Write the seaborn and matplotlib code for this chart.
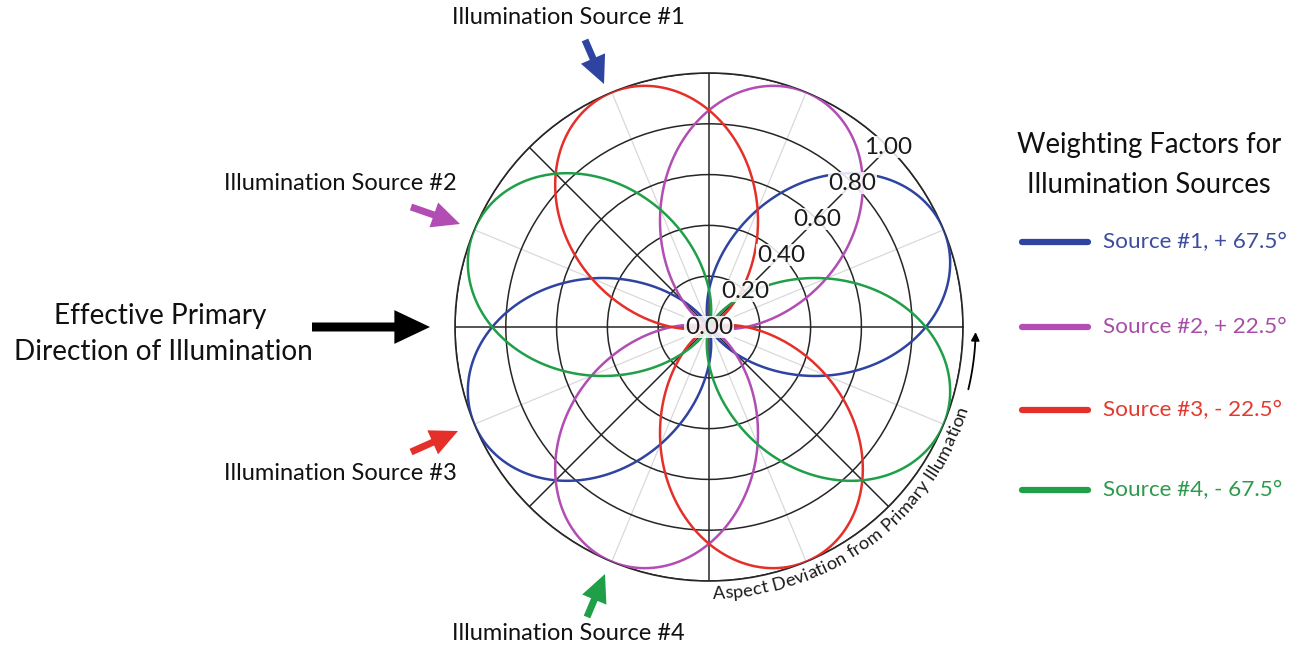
import numpy as np
import pandas as pd
import matplotlib
matplotlib.use("Agg")
import matplotlib.pyplot as plt
from matplotlib.patches import FancyArrowPatch, ArrowStyle
from matplotlib.font_manager import FontProperties
import seaborn as sns

# weighting factors for the four illumination sources
sources = ["Source #1, + 67.5°", "Source #2, + 22.5°", "Source #3, - 22.5°", "Source #4, - 67.5°"]
offsets_deg = [67.5, 22.5, -22.5, -67.5]
line_colors = ["#2e44a0", "#b24db3", "#e5302a", "#1f9f47"]
text_colors = ["#3d4c9c", "#a64ea8", "#e23a30", "#2e9a4c"]
ring_values = [0.0, 0.2, 0.4, 0.6, 0.8, 1.0]
ring_labels = ["0.00", "0.20", "0.40", "0.60", "0.80", "1.00"]
source_labels = ["Illumination Source #1", "Illumination Source #2",
                 "Illumination Source #3", "Illumination Source #4"]
axis_caption = "Aspect Deviation from Primary Illumation"

sns.set_style("white")
plt.rcParams["font.family"] = ["Lato", "DejaVu Sans"]

W, H = 1304, 648
fig = plt.figure(figsize=(W / 100, H / 100), dpi=100)
cx, cy, R = 709, 327, 254
ax = fig.add_axes([(cx - R) / W, (H - cy - R) / H, 2 * R / W, 2 * R / H], projection="polar")

# weight = sin^2(aspect - source azimuth), primary light comes from 180 deg
theta = np.linspace(0, 2 * np.pi, 721)
rows = []
for name, off in zip(sources, offsets_deg):
    w = np.sin(theta - np.radians(180 - off)) ** 2
    rows.append(pd.DataFrame({"theta": theta, "weight": w, "source": name}))
df = pd.concat(rows, ignore_index=True)

sns.lineplot(data=df, x="theta", y="weight", hue="source", palette=line_colors,
             sort=False, estimator=None, legend=False, linewidth=1.8, ax=ax, zorder=3)

ax.set_ylim(0, 1)
ax.set_yticks(ring_values[1:])
ax.set_yticklabels([])
ax.set_xticks(np.radians(np.arange(0, 360, 45)))
ax.set_xticklabels([])
ax.set_xticks(np.radians(np.arange(22.5, 360, 45)), minor=True)
ax.tick_params(which="both", length=0)
ax.set_axisbelow(True)
ax.grid(True, which="major", color="#262626", linewidth=1.1)
ax.xaxis.grid(True, which="minor", color="#d9d9d9", linewidth=0.9)
ax.spines["polar"].set_color("#262626")
ax.spines["polar"].set_linewidth(1.2)
ax.set_xlabel("")
ax.set_ylabel("")

for v, lab in zip(ring_values, ring_labels):
    ax.text(np.radians(45), v, lab, ha="center", va="center", fontsize=17.5, color="#1a1a1a",
            zorder=6, bbox=dict(facecolor="white", edgecolor="none", alpha=0.85, pad=0.4))

# curved caption along the rim
fp = FontProperties(family=["Lato", "DejaVu Sans"], size=13.2)
renderer = fig.canvas.get_renderer()
r_txt = 1.05
r_px = r_txt * R
t0 = np.radians(-89.3)
prev = 0.0
for i, ch in enumerate(axis_caption):
    wd = renderer.get_text_width_height_descent(axis_caption[:i + 1], fp, ismath=False)[0]
    mid = (prev + wd) / 2
    prev = wd
    if ch == " ":
        continue
    ang = t0 + mid / r_px
    ax.text(ang, r_txt, ch, fontproperties=fp, color="#1a1a1a", rotation=np.degrees(ang) + 90,
            rotation_mode="anchor", ha="center", va="center", clip_on=False)

arc = np.radians(np.linspace(-13.5, -3, 30))
ax.plot(arc, np.full(arc.size, r_txt), color="black", lw=1.3, clip_on=False)
ax.annotate("", xy=(np.radians(-0.5), r_txt), xytext=(np.radians(-3.5), r_txt),
            arrowprops=dict(arrowstyle="-|>", color="black", lw=1.3, mutation_scale=12),
            annotation_clip=False)


def fpix(x, y):
    return x / W, 1 - y / H


def arrow(x0, y0, x1, y1, color, scale):
    st = ArrowStyle.Simple(head_length=0.95, head_width=0.9, tail_width=0.24)
    p = FancyArrowPatch(fpix(x0, y0), fpix(x1, y1), transform=fig.transFigure, arrowstyle=st,
                        mutation_scale=scale, color=color, lw=0, shrinkA=0, shrinkB=0)
    fig.add_artist(p)


arrow(585, 40, 604, 84, line_colors[0], 21)
arrow(411, 207, 460, 224, line_colors[1], 21)
arrow(411, 452, 458, 431, line_colors[2], 21)
arrow(587, 617, 605, 574, line_colors[3], 21)
arrow(312, 327, 430, 327, "black", 27)

fs_src = 17
fig.text(*fpix(568, 18), source_labels[0], ha="center", va="center", fontsize=fs_src, color="#111111")
fig.text(*fpix(340, 184), source_labels[1], ha="center", va="center", fontsize=fs_src, color="#111111")
fig.text(*fpix(340, 473), source_labels[2], ha="center", va="center", fontsize=fs_src, color="#111111")
fig.text(*fpix(568, 634), source_labels[3], ha="center", va="center", fontsize=fs_src, color="#111111")
fig.text(*fpix(160, 316), "Effective Primary", ha="center", va="center", fontsize=20.2, color="#111111")
fig.text(*fpix(163, 352), "Direction of Illumination", ha="center", va="center", fontsize=20.2,
         color="#111111")

# legend
fig.text(*fpix(1149, 145), "Weighting Factors for", ha="center", va="center", fontsize=19.8,
         color="#111111")
fig.text(*fpix(1149, 185), "Illumination Sources", ha="center", va="center", fontsize=19.8,
         color="#111111")
leg_y = [242, 327, 410, 490]
for name, lc, tc, y in zip(sources, line_colors, text_colors, leg_y):
    fig.add_artist(plt.Line2D([1022 / W, 1088 / W], [1 - y / H] * 2, color=lc, lw=4.5,
                              transform=fig.transFigure))
    fig.text(*fpix(1103, y), name, ha="left", va="center", fontsize=16.2, color=tc)

fig.savefig("out.png", dpi=100, facecolor="white")
